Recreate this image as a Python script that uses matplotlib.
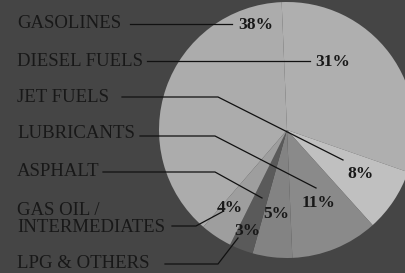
import matplotlib
matplotlib.use("Agg")
import matplotlib.pyplot as plt

# refinery product shares (percent)
products = ["GASOLINES", "DIESEL FUELS", "JET FUELS", "LUBRICANTS",
            "ASPHALT", "GAS OIL /\nINTERMEDIATES", "LPG & OTHERS"]
shares = [38, 31, 8, 11, 5, 4, 3]
# order of the wedges going clockwise round the pie
wedge_order = [0, 1, 2, 3, 4, 6, 5]
wedge_colors = ["#acacac", "#afafaf", "#c0c0c0", "#8a8a8a",
                "#838383", "#9e9e9e", "#5a5a5a"]

W, H = 405, 273
BG = "#454545"
INK = "#181818"


def px(x, y):
    # pixel position (origin top left) -> data coords
    return x, H - y


fig = plt.figure(figsize=(W / 100, H / 100), dpi=100, facecolor=BG)
ax = fig.add_axes([0, 0, 1, 1])
ax.set_facecolor(BG)

ax.pie([shares[i] for i in wedge_order],
       colors=[wedge_colors[i] for i in wedge_order],
       center=px(287, 130), radius=128, startangle=229.2,
       counterclock=False, frame=True,
       wedgeprops=dict(linewidth=0))
ax.set_xlim(0, W)
ax.set_ylim(0, H)
ax.set_aspect("equal")
ax.axis("off")

font = dict(family=["Liberation Serif", "DejaVu Serif"], color=INK)

# product names down the left side
name_y = [24, 61, 98, 134, 172, 219, 264]
for name, y in zip(products, name_y):
    ax.text(*px(17, y), name, fontsize=13.5, ha="left", va="center",
            linespacing=0.95, **font)

# leader lines (pixel points)
leaders = [
    [(130, 24), (232, 24)],
    [(147, 61), (310, 61)],
    [(122, 97), (218, 97), (343, 160)],
    [(140, 136), (215, 136), (316, 188)],
    [(103, 172), (215, 172), (262, 198)],
    [(172, 226), (196, 226), (222, 212)],
    [(165, 264), (218, 264), (238, 238)],
]
pct_pos = [(256, 25), (333, 62), (360, 174), (319, 203),
           (276, 214), (230, 208), (247, 231)]

for pts in leaders:
    xs = [p[0] for p in pts]
    ys = [H - p[1] for p in pts]
    ax.plot(xs, ys, color="#111111", linewidth=0.9)

for share, (x, y) in zip(shares, pct_pos):
    ax.text(*px(x, y), f"{share}%", fontsize=12.5, fontweight="bold",
            ha="center", va="center", **font)

fig.savefig("out.png", dpi=100, facecolor=BG)
